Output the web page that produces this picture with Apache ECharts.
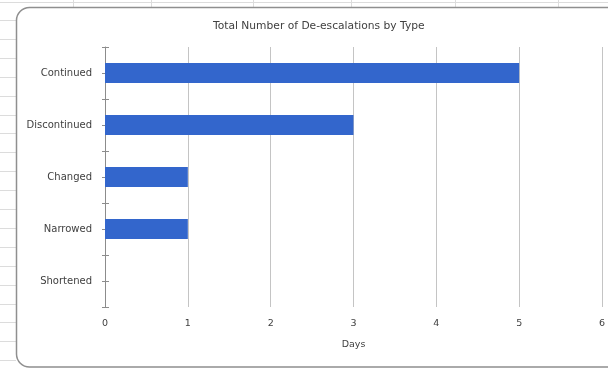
<!DOCTYPE html>
<html>
<head>
<meta charset="utf-8">
<script src="https://cdn.jsdelivr.net/npm/echarts@6/dist/echarts.min.js"></script>
<style>
  html, body { margin: 0; padding: 0; background: #ffffff; }
  #chart { width: 608px; height: 369px; }
</style>
</head>
<body>
<div id="chart"></div>
<script>
// De-escalation counts per type
const categories = ['Continued', 'Discontinued', 'Changed', 'Narrowed', 'Shortened'];
const counts = [5, 3, 1, 1, 0];
const xTicks = [0, 1, 2, 3, 4, 5, 6];

const FONT = 'DejaVu Sans';
const TEXT = '#404040';
const AXIS = '#8c8c8c';

// Worksheet cell lines behind the chart frame
const sheet = [];
sheet.push({ type: 'line', shape: { x1: 0, y1: 2.5, x2: 608, y2: 2.5 }, style: { stroke: '#dcdcdc', lineWidth: 1 }, silent: true, z: -10 });
[73, 151, 253, 351, 455, 558].forEach(function (x) {
  sheet.push({ type: 'line', shape: { x1: x + 0.5, y1: 0, x2: x + 0.5, y2: 7 }, style: { stroke: '#dcdcdc', lineWidth: 1 }, silent: true, z: -10 });
});
for (let i = 0; i < 19; i++) {
  const y = Math.round(20 + i * 18.9) + 0.5;
  sheet.push({ type: 'line', shape: { x1: 0, y1: y, x2: 16, y2: y }, style: { stroke: '#dcdcdc', lineWidth: 1 }, silent: true, z: -10 });
}
// Chart frame
sheet.push({
  type: 'rect',
  shape: { x: 16.5, y: 7.5, width: 620, height: 359.5, r: 13 },
  style: { fill: '#ffffff', stroke: '#8f8f8f', lineWidth: 1.5 },
  silent: true, z: -5
});

const chart = echarts.init(document.getElementById('chart'), null, { renderer: 'canvas' });

const tickAxisBase = {
  type: 'value', min: 0, max: 5, interval: 0.5, position: 'left', inverse: true,
  axisLine: { show: false }, axisLabel: { show: false }, splitLine: { show: false }
};

chart.setOption({
  animation: false,
  backgroundColor: '#ffffff',
  graphic: sheet,
  title: {
    text: 'Total Number of De-escalations by Type',
    left: 208, top: 16,
    textStyle: { fontFamily: FONT, fontSize: 10.7, fontWeight: 'normal', color: TEXT }
  },
  grid: { left: 105, right: 6, top: 47, bottom: 62, containLabel: false },
  xAxis: {
    type: 'value', min: xTicks[0], max: xTicks[xTicks.length - 1], interval: 1,
    name: 'Days', nameLocation: 'middle', nameGap: 33,
    nameTextStyle: { fontFamily: FONT, fontSize: 9.5, color: TEXT },
    axisLine: { show: false }, axisTick: { show: false },
    axisLabel: { fontFamily: FONT, fontSize: 9.5, color: TEXT, margin: 12 },
    splitLine: { show: true, lineStyle: { color: '#c4c4c4', width: 1 } }
  },
  yAxis: [
    {
      type: 'category', data: categories, inverse: true,
      axisLine: { show: true, lineStyle: { color: AXIS, width: 1 } },
      axisTick: { show: false },
      axisLabel: { fontFamily: FONT, fontSize: 10, color: TEXT, margin: 13 },
      splitLine: { show: false }
    },
    Object.assign({}, tickAxisBase, { axisTick: { show: true, inside: false, length: 3, lineStyle: { color: AXIS } } }),
    Object.assign({}, tickAxisBase, { axisTick: { show: true, inside: true, length: 4, lineStyle: { color: AXIS } } })
  ],
  series: [{
    type: 'bar', yAxisIndex: 0, data: counts,
    barCategoryGap: '62%',
    itemStyle: { color: '#3366cc' },
    z: 1
  }]
});
</script>
</body>
</html>
